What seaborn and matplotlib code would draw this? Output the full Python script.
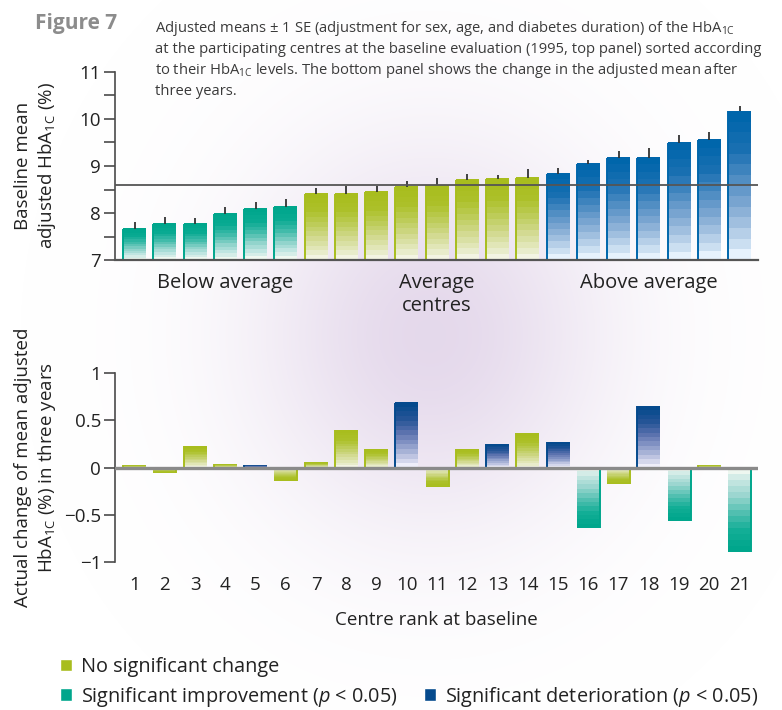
import numpy as np
import pandas as pd
import matplotlib
matplotlib.use("Agg")
import matplotlib.pyplot as plt
import seaborn as sns
from matplotlib.colors import LinearSegmentedColormap, to_hex, to_rgb
from matplotlib.patches import Patch

# ---------------------------------------------------------------- data
ranks = [str(r) for r in range(1, 22)]

baseline_mean = [7.66, 7.78, 7.77, 7.98, 8.09, 8.13, 8.40, 8.40, 8.45, 8.55, 8.59,
                 8.70, 8.72, 8.74, 8.84, 9.04, 9.17, 9.17, 9.49, 9.55, 10.16]
baseline_se = [0.15, 0.13, 0.13, 0.14, 0.14, 0.16, 0.14, 0.18, 0.13, 0.14, 0.16,
               0.13, 0.08, 0.19, 0.11, 0.08, 0.15, 0.21, 0.16, 0.18, 0.12]
baseline_group = (["Below average"] * 6 + ["Average centres"] * 8
                  + ["Above average"] * 7)
overall_mean = 8.6

change_3y = [0.03, -0.06, 0.23, 0.04, 0.03, -0.14, 0.06, 0.40, 0.20, 0.69, -0.21,
             0.20, 0.25, 0.37, 0.27, -0.64, -0.17, 0.65, -0.57, 0.03, -0.89]
NS, IMP, DET = ("No significant change", "Significant improvement",
                "Significant deterioration")
change_group = [NS, NS, NS, NS, DET, NS, NS, NS, NS, DET, NS,
                NS, DET, NS, DET, IMP, NS, DET, IMP, NS, IMP]

group_labels = [("Below average", 3), ("Average\ncentres", 10), ("Above average", 17)]

# ---------------------------------------------------------------- style
sns.set_style("ticks")
plt.rcParams["font.family"] = ["Open Sans", "DejaVu Sans"]
plt.rcParams["mathtext.fontset"] = "custom"
plt.rcParams["mathtext.rm"] = "Open Sans"
plt.rcParams["mathtext.it"] = "Open Sans:italic"
plt.rcParams["mathtext.bf"] = "Open Sans:bold"

TEXT = "#222222"
AXIS = "#4a4a4a"

# light (base) -> dark (bar end) ramps
ramps = {
    "Below average": ["#f0f8f1", "#c6e8e4", "#8fd3cb", "#45bcac", "#0aab93", "#00a68c"],
    "Average centres": ["#f3f4e3", "#e3e8bd", "#d2da90", "#bfcd5c", "#adc12a", "#a8bd1e"],
    "Above average": ["#e6f2fd", "#bcd4eb", "#8aafd6", "#5590c5", "#1a70b2", "#0066ab"],
    NS: ["#f3f4e3", "#e3e8bd", "#d2da90", "#bfcd5c", "#adc12a", "#a8bd1e"],
    IMP: ["#eef7f0", "#c6e6e2", "#9ad6cf", "#55c1b2", "#14af97", "#00a68c"],
    DET: ["#eeeefa", "#c5cae4", "#909fcb", "#5f74b0", "#265597", "#054a8d"],
}
cmaps = {k: LinearSegmentedColormap.from_list(k, v) for k, v in ramps.items()}
dark = {k: v[-1] for k, v in ramps.items()}


def paint_bars(ax, palette, floor=None, steps=14):
    """Replace flat seaborn bars by stepped colour ramps (light at the base)."""
    lookup = {to_hex(c): g for g, c in palette.items()}
    for bar in list(ax.patches):
        group = lookup.get(to_hex(bar.get_facecolor()))
        if group is None:
            continue
        x0, w = bar.get_x(), bar.get_width()
        y0, h = bar.get_y(), bar.get_height()
        lo, hi = sorted((y0, y0 + h))
        if floor is not None:
            lo = max(lo, floor)
        if hi <= lo:
            continue
        ramp = np.linspace(0.0, 1.0, steps) ** 0.8
        if h < 0:
            ramp = ramp[::-1]
        ax.imshow(ramp.reshape(-1, 1), cmap=cmaps[group], vmin=0, vmax=1,
                  extent=(x0, x0 + w, lo, hi), origin="lower", aspect="auto",
                  interpolation="nearest", zorder=2)
        edge_x = x0 if h >= 0 else x0 + w
        ax.plot([edge_x, edge_x], [lo, hi], color=dark[group], lw=1.4,
                solid_capstyle="butt", zorder=2.5)
        bar.set_visible(False)


# ---------------------------------------------------------------- figure
fig = plt.figure(figsize=(7.82, 7.10), dpi=100)

# soft lavender glow behind the panels
bg = fig.add_axes([0, 0, 1, 1], zorder=-5)
bg.axis("off")
H, W = 710, 782
yy, xx = np.mgrid[0:H, 0:W]
glow = np.exp(-0.5 * (((xx - 430) / 125.0) ** 2 + ((yy - 335) / 135.0) ** 2))
rgba = np.zeros((H, W, 4))
rgba[..., :3] = to_rgb("#e0d2e8")
rgba[..., 3] = 0.85 * glow
bg.imshow(rgba, extent=(0, 1, 0, 1), origin="upper", aspect="auto")
bg.set_xlim(0, 1)
bg.set_ylim(0, 1)

ax_top = fig.add_axes([115 / 782, 1 - 260.3 / 710, 643 / 782, 188.6 / 710])
ax_bot = fig.add_axes([115 / 782, 1 - 562 / 710, 643 / 782, 188.7 / 710])
for ax in (ax_top, ax_bot):
    ax.set_facecolor("none")

# ---------------------------------------------------------------- top panel
top_df = pd.DataFrame({"rank": ranks, "mean": baseline_mean, "se": baseline_se,
                       "group": baseline_group})
top_palette = {g: dark[g] for g in ["Below average", "Average centres", "Above average"]}
sns.barplot(data=top_df, x="rank", y="mean", hue="group", palette=top_palette,
            order=ranks, dodge=False, width=0.76, saturation=1, legend=False,
            errorbar=None, ax=ax_top)
ax_top.set_ylim(7, 11)
paint_bars(ax_top, top_palette, floor=7)
xpos = np.arange(len(ranks))
ax_top.errorbar(xpos, top_df["mean"], yerr=[np.zeros(len(ranks)), top_df["se"]],
                fmt="none", ecolor="#333333", elinewidth=1.3, capsize=0, zorder=3)
ax_top.axhline(overall_mean, color="#555555", lw=1.3, zorder=4)
ax_top.set_xlim(-0.645, 20.61)
ax_top.set_ylim(7, 11)
ax_top.set_yticks([7, 8, 9, 10, 11])
ax_top.set_yticks([7.5, 8.5, 9.5, 10.5], minor=True)
ax_top.tick_params(axis="y", which="both", length=8, width=1.2, color=AXIS,
                   pad=2, labelsize=13.5, labelcolor=TEXT)
ax_top.tick_params(axis="x", length=0, labelbottom=False)
ax_top.set_xlabel("")
sns.despine(ax=ax_top)
ax_top.spines["left"].set_color(AXIS)
ax_top.spines["left"].set_linewidth(1.2)
ax_top.spines["bottom"].set_color("#555555")
ax_top.spines["bottom"].set_linewidth(1.6)
ax_top.set_ylabel("Baseline mean\nadjusted HbA$_{\\mathrm{1C}}$ (%)", fontsize=13.5,
                  color=TEXT, linespacing=1.3, ha="center", va="center")
ax_top.yaxis.set_label_coords(-0.123, 0.5)
for label, xc in group_labels:
    ax_top.text(xc, -0.065, label, transform=ax_top.get_xaxis_transform(),
                ha="center", va="top", fontsize=14.5, color=TEXT, linespacing=1.25)

# ---------------------------------------------------------------- bottom panel
bot_df = pd.DataFrame({"rank": ranks, "change": change_3y, "group": change_group})
bot_palette = {g: dark[g] for g in [NS, IMP, DET]}
sns.barplot(data=bot_df, x="rank", y="change", hue="group", palette=bot_palette,
            order=ranks, dodge=False, width=0.76, saturation=1, legend=False,
            errorbar=None, ax=ax_bot)
paint_bars(ax_bot, bot_palette)
ax_bot.axhline(0, color="#8a8a8a", lw=2.4, zorder=4)
ax_bot.set_xlim(-0.645, 20.61)
ax_bot.set_ylim(-1, 1)
ax_bot.set_yticks([-1, -0.5, 0, 0.5, 1])
ax_bot.set_yticklabels(["\u22121", "\u22120.5", "0", "0.5", "1"])
ax_bot.tick_params(axis="y", length=8, width=1.2, color=AXIS, pad=2,
                   labelsize=13.5, labelcolor=TEXT)
ax_bot.tick_params(axis="x", length=0, pad=10, labelsize=13.5, labelcolor=TEXT)
sns.despine(ax=ax_bot, bottom=True)
ax_bot.spines["left"].set_color(AXIS)
ax_bot.spines["left"].set_linewidth(1.2)
ax_bot.set_xlabel("Centre rank at baseline", fontsize=13.5, color=TEXT, labelpad=12)
ax_bot.set_ylabel("Actual change of mean adjusted\nHbA$_{\\mathrm{1C}}$ (%) in three years",
                  fontsize=13.5, color=TEXT, linespacing=1.3, ha="center", va="center")
ax_bot.yaxis.set_label_coords(-0.123, 0.5)

# ---------------------------------------------------------------- heading
fig.text(35 / 782, 1 - 24 / 710, "Figure 7", fontsize=15, fontweight="bold",
         color="#8c8c8c", ha="left", va="center")
caption = [
    "Adjusted means \u00b1 1 SE (adjustment for sex, age, and diabetes duration) of the HbA$_{\\mathrm{1C}}$",
    "at the participating centres at the baseline evaluation (1995, top panel) sorted according",
    "to their HbA$_{\\mathrm{1C}}$ levels. The bottom panel shows the change in the adjusted mean after",
    "three years.",
]
for i, line in enumerate(caption):
    fig.text(155 / 782, 1 - (28 + 21.2 * i) / 710, line, fontsize=10.6,
             color="#3a3a3a", ha="left", va="center")

# ---------------------------------------------------------------- legend
handles = [Patch(facecolor=dark[NS]), Patch(facecolor=dark[IMP]),
           Patch(facecolor="none", edgecolor="none"), Patch(facecolor=dark[DET])]
labels = ["No significant change", "Significant improvement ($p$ < 0.05)", "",
          "Significant deterioration ($p$ < 0.05)"]
fig.legend(handles, labels, ncol=2, loc="upper left",
           bbox_to_anchor=(60 / 782, 1 - 657 / 710), bbox_transform=fig.transFigure,
           frameon=False, fontsize=14.3, handlelength=0.6, handleheight=0.6,
           handletextpad=0.45, columnspacing=1.35, labelspacing=0.38,
           borderpad=0, borderaxespad=0, labelcolor=TEXT)

fig.savefig("out.png", dpi=100)
